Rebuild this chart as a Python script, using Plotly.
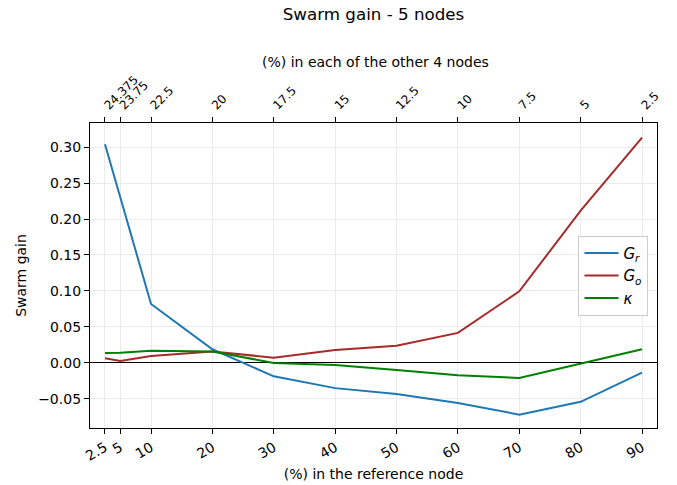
import plotly.graph_objects as go

ref_pct = [2.5, 5, 10, 20, 30, 40, 50, 60, 70, 80, 90]
ref_labels = ["2.5", "5", "10", "20", "30", "40", "50", "60", "70", "80", "90"]
other_labels = ["24.375", "23.75", "22.5", "20", "17.5", "15", "12.5", "10", "7.5", "5", "2.5"]

g_r = [0.304, 0.229, 0.082, 0.019, -0.0186, -0.035, -0.043, -0.0556, -0.0718, -0.054, -0.0135]
g_o = [0.0065, 0.0028, 0.0097, 0.016, 0.0073, 0.018, 0.024, 0.0417, 0.0995, 0.2115, 0.313]
kappa = [0.0139, 0.014, 0.017, 0.016, 0.0, -0.003, -0.0097, -0.017, -0.021, -0.0005, 0.019]

y_ticks = [-0.05, 0.0, 0.05, 0.10, 0.15, 0.20, 0.25, 0.30]

FONT = "DejaVu Sans"

fig = go.Figure()
fig.add_trace(go.Scatter(x=ref_pct, y=g_r, mode="lines", name="<i>G</i><sub><i>r</i></sub>",
                         line=dict(color="#1f77b4", width=2)))
fig.add_trace(go.Scatter(x=ref_pct, y=g_o, mode="lines", name="<i>G</i><sub><i>o</i></sub>",
                         line=dict(color="#a52a2a", width=2)))
fig.add_trace(go.Scatter(x=ref_pct, y=kappa, mode="lines", name="<i>κ</i>",
                         line=dict(color="#008000", width=2)))
# invisible trace to carry the top axis
fig.add_trace(go.Scatter(x=ref_pct, y=[None] * len(ref_pct), xaxis="x2", mode="lines",
                         showlegend=False, hoverinfo="skip"))

xr = [0.06, 92.44]
fig.update_layout(
    width=677, height=485,
    margin=dict(l=90, r=20, t=123, b=57),
    paper_bgcolor="white", plot_bgcolor="white",
    font=dict(family=FONT, size=14, color="black"),
    title=dict(text="Swarm gain - 5 nodes", x=0.5517, xanchor="center", y=0.971, yanchor="middle",
               font=dict(size=16.7)),
    xaxis=dict(range=xr, tickvals=ref_pct, ticktext=ref_labels, tickangle=-30,
               showgrid=True, gridcolor="#ebebeb", gridwidth=1, automargin=False,
               showline=True, linecolor="black", linewidth=1.3, mirror=True,
               ticks="outside", ticklen=5, tickcolor="black", zeroline=False,
               tickfont=dict(size=14),
               title=dict(text="(%) in the reference node", font=dict(size=14), standoff=6)),
    xaxis2=dict(range=xr, overlaying="x", side="top", matches="x", automargin=False,
                tickvals=ref_pct, ticktext=other_labels, tickangle=-45,
                showgrid=False, showline=True, linecolor="black", linewidth=1.3,
                ticks="outside", ticklen=5, tickcolor="black", zeroline=False,
                tickfont=dict(size=12)),
    yaxis=dict(range=[-0.0904, 0.3334], tickvals=y_ticks, tickformat=".2f", automargin=False,
               showgrid=True, gridcolor="#ebebeb", gridwidth=1,
               showline=True, linecolor="black", linewidth=1.3, mirror=True,
               ticks="outside", ticklen=5, tickcolor="black",
               zeroline=True, zerolinecolor="black", zerolinewidth=1,
               tickfont=dict(size=14),
               title=dict(text="Swarm gain", font=dict(size=14), standoff=8)),
    legend=dict(x=0.985, xanchor="right", y=0.499, yanchor="middle",
                bgcolor="rgba(255,255,255,0.8)", bordercolor="#cccccc", borderwidth=1,
                font=dict(size=15), tracegroupgap=0, itemwidth=34),
    annotations=[dict(text="(%) in each of the other 4 nodes", xref="paper", yref="paper",
                      x=0.503, y=1.2003, xanchor="center", yanchor="middle",
                      showarrow=False, font=dict(size=14))],
    showlegend=True,
)

fig.write_html("out.html", config={"displayModeBar": False},
               post_script="document.body.style.margin='0px';")
